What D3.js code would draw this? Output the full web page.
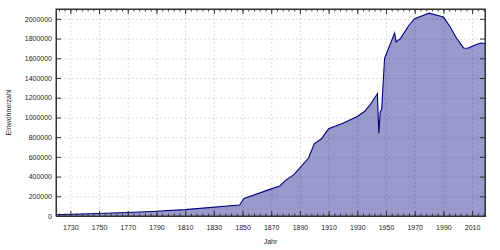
<!DOCTYPE html>
<html>
<head>
<meta charset="utf-8">
<script src="https://cdn.jsdelivr.net/npm/d3@7"></script>
<style>
  body { margin: 0; background: #fff; }
  svg text { font-family: "Liberation Sans", Arial, sans-serif; font-size: 7px; fill: #222; }
</style>
</head>
<body>
<svg id="chart"></svg>
<script>
// population data
const years = [1720, 1760, 1787, 1810, 1848, 1851, 1870, 1876, 1880, 1886, 1896, 1900, 1905, 1910,
  1920, 1930, 1935, 1939, 1944, 1945, 1946, 1947, 1949, 1956, 1957, 1960, 1966, 1970, 1980,
  1990, 1994, 1999, 2004, 2007, 2010, 2013, 2016, 2019];
const population = [12200, 30000, 45000, 65000, 112000, 178000, 275000, 305000, 362000, 422000, 588000,
  733000, 783000, 885000, 942000, 1010000, 1060000, 1129000, 1240000, 840000, 1058000, 1086000,
  1600000, 1855000, 1765000, 1800000, 1935000, 2002000, 2058000, 2018000, 1935000, 1808000,
  1705000, 1702000, 1722000, 1740000, 1755000, 1750000];
const xTicks = d3.range(1730, 2011, 20);
const xMinorTicks = d3.range(1722, 2019, 4);
const yTicks = d3.range(0, 2000001, 200000);

const data = years.map((y, i) => ({ year: y, value: population[i] }));

const width = 500;
const height = 250;
const margin = { top: 9, right: 15, bottom: 34, left: 56 };
const innerW = width - margin.left - margin.right;
const innerH = height - margin.top - margin.bottom;

const svg = d3.select('#chart')
  .attr('width', width)
  .attr('height', height);

const g = svg.append('g')
  .attr('transform', `translate(${margin.left},${margin.top})`);

const x = d3.scaleLinear().domain([1720, 2019]).range([0, innerW]);
const y = d3.scaleLinear().domain([0, 2100000]).range([innerH, 0]);

// grid
g.append('g')
  .attr('class', 'grid')
  .attr('transform', `translate(0,${innerH})`)
  .call(d3.axisBottom(x).tickValues(xTicks).tickSize(-innerH).tickFormat(''))
  .call(s => s.select('.domain').remove());
g.append('g')
  .attr('class', 'grid')
  .call(d3.axisLeft(y).tickValues(yTicks).tickSize(-innerW).tickFormat(''))
  .call(s => s.select('.domain').remove());
g.selectAll('.grid line')
  .attr('stroke', '#d4d4d4')
  .attr('stroke-width', 0.8)
  .attr('stroke-dasharray', '2,2');

// area + line
const area = d3.area()
  .x(d => x(d.year))
  .y0(innerH)
  .y1(d => y(d.value));
const line = d3.line()
  .x(d => x(d.year))
  .y(d => y(d.value));

g.append('path')
  .datum(data)
  .attr('d', area)
  .attr('fill', '#000080')
  .attr('fill-opacity', 0.4);
g.append('path')
  .datum(data)
  .attr('d', line)
  .attr('fill', 'none')
  .attr('stroke', '#000080')
  .attr('stroke-width', 1.1);

// axes: inward ticks on all sides
const tickColor = '#333';
g.append('g')
  .attr('transform', `translate(0,${innerH})`)
  .call(d3.axisBottom(x).tickValues(xMinorTicks).tickSize(-2.5).tickFormat(''));
g.append('g')
  .attr('transform', `translate(0,${innerH})`)
  .call(d3.axisBottom(x).tickValues(xTicks).tickSize(-5).tickPadding(9).tickFormat(d3.format('d')));
g.append('g')
  .call(d3.axisTop(x).tickValues(xMinorTicks).tickSize(-2.5).tickFormat(''));
g.append('g')
  .call(d3.axisTop(x).tickValues(xTicks).tickSize(-5).tickFormat(''));
g.append('g')
  .call(d3.axisLeft(y).tickValues(yTicks).tickSize(-5).tickPadding(4).tickFormat(d3.format('d')));
g.append('g')
  .attr('transform', `translate(${innerW},0)`)
  .call(d3.axisRight(y).tickValues(yTicks).tickSize(-5).tickFormat(''));

g.selectAll('.tick line').filter(function () { return !this.closest('.grid'); })
  .attr('stroke', tickColor);
g.selectAll('.domain').attr('stroke', tickColor);
g.selectAll('.tick text')
  .attr('font-family', null)
  .attr('font-size', null)
  .attr('fill', null);

// frame
g.append('rect')
  .attr('width', innerW)
  .attr('height', innerH)
  .attr('fill', 'none')
  .attr('stroke', tickColor)
  .attr('stroke-width', 1);

// axis titles
svg.append('text')
  .attr('x', margin.left + innerW / 2)
  .attr('y', 244)
  .attr('text-anchor', 'middle')
  .text('Jahr');
svg.append('text')
  .attr('transform', `translate(11,${margin.top + innerH / 2}) rotate(-90)`)
  .attr('text-anchor', 'middle')
  .text('Einwohnerzahl');
</script>
</body>
</html>
